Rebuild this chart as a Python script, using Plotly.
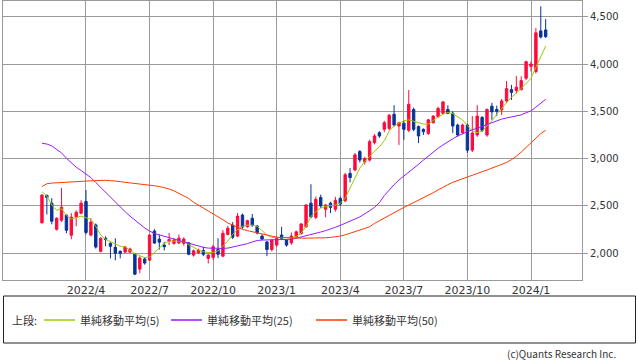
import plotly.graph_objects as go
import pandas as pd

# ---------------- data (weekly candles) ----------------
start_date = "2022-01-31"
n_weeks = 104
dates = pd.date_range(start_date, periods=n_weeks, freq="7D")

opens = [2322, 2612, 2530, 2254, 2350, 2403, 2191, 2382, 2424, 2547,
         2193, 2300, 2021, 2159, 2106, 2064, 2021, 2013, 2013, 1992,
         1833, 1940, 1928, 2235, 2150, 2087, 2130, 2105, 2110, 2105,
         2110, 1981, 2005, 2030, 1946, 1957, 2040, 1970, 2200, 2298,
         2182, 2404, 2280, 2370, 2287, 2182, 2120, 2040, 2087, 2193,
         2140, 2110, 2175, 2210, 2280, 2530, 2380, 2590, 2465, 2530,
         2465, 2580, 2555, 2845, 2880, 3075, 2967, 2985, 3170, 3275,
         3310, 3320, 3470, 3345, 3375, 3300, 3520, 3340, 3310, 3267,
         3380, 3445, 3480, 3520, 3480, 3355, 3275, 3355, 3090, 3250,
         3435, 3250, 3555, 3520, 3515, 3610, 3730, 3720, 3730, 3850,
         3975, 3920, 4350, 4360]
highs = [2625, 2620, 2583, 2380, 2689, 2410, 2424, 2455, 2561, 2668,
         2371, 2315, 2170, 2180, 2116, 2159, 2030, 2080, 2060, 2000,
         1970, 1960, 2200, 2255, 2200, 2120, 2215, 2160, 2200, 2170,
         2120, 2040, 2050, 2070, 1995, 2090, 2160, 2245, 2290, 2330,
         2425, 2420, 2355, 2415, 2300, 2200, 2130, 2150, 2180, 2280,
         2150, 2220, 2240, 2320, 2520, 2730, 2600, 2620, 2520, 2545,
         2597, 2600, 2850, 2900, 3060, 3090, 3020, 3200, 3260, 3290,
         3400, 3470, 3565, 3390, 3400, 3725, 3540, 3350, 3320, 3420,
         3460, 3550, 3605, 3565, 3500, 3370, 3370, 3370, 3450, 3565,
         3450, 3530, 3590, 3560, 3630, 3820, 3780, 3875, 3870, 4035,
         4030, 4380, 4610, 4475]
lows = [2315, 2410, 2307, 2240, 2330, 2212, 2148, 2286, 2413, 2200,
        2180, 2050, 2010, 2074, 1947, 1926, 1947, 2000, 2000, 1770,
        1790, 1880, 1920, 2100, 2040, 2030, 2087, 2090, 2095, 2080,
        1980, 1965, 1995, 1970, 1893, 1930, 1950, 1960, 2190, 2150,
        2170, 2260, 2270, 2280, 2200, 2140, 1970, 2020, 2070, 2140,
        2070, 2090, 2160, 2195, 2270, 2370, 2360, 2480, 2380, 2425,
        2440, 2500, 2540, 2750, 2870, 2960, 2940, 2970, 3150, 3220,
        3280, 3300, 3340, 3145, 3200, 3280, 3290, 3165, 3250, 3250,
        3370, 3430, 3470, 3470, 3270, 3230, 3260, 3060, 3070, 3230,
        3280, 3230, 3410, 3450, 3460, 3590, 3620, 3690, 3720, 3830,
        3920, 3900, 4270, 4275]
closes = [2615, 2590, 2339, 2371, 2487, 2244, 2382, 2434, 2530, 2220,
          2330, 2066, 2159, 2145, 2074, 2000, 2000, 2066, 2045, 1780,
          1950, 1897, 2193, 2108, 2118, 2070, 2145, 2140, 2160, 2150,
          1990, 2027, 2035, 1990, 1981, 2069, 1990, 2212, 2265, 2171,
          2393, 2277, 2345, 2298, 2215, 2150, 2040, 2140, 2157, 2157,
          2087, 2182, 2227, 2310, 2510, 2385, 2570, 2500, 2510, 2485,
          2560, 2520, 2830, 2800, 3040, 2985, 3000, 3180, 3240, 3240,
          3380, 3460, 3355, 3380, 3310, 3575, 3310, 3240, 3285, 3410,
          3450, 3530, 3600, 3480, 3345, 3250, 3355, 3090, 3270, 3450,
          3300, 3520, 3495, 3500, 3610, 3740, 3700, 3755, 3825, 4025,
          4000, 4330, 4285, 4290]

ma5 = [2650, 2605, 2510, 2455, 2470, 2400, 2362, 2380, 2393, 2375,
       2358, 2285, 2195, 2147, 2122, 2095, 2075, 2069, 2030, 1995,
       1975, 1955, 1960, 2010, 2060, 2105, 2128, 2130, 2130, 2120,
       2090, 2060, 2035, 2018, 2008, 2010, 2025, 2075, 2130, 2200,
       2250, 2285, 2298, 2298, 2285, 2240, 2195, 2168, 2165, 2165,
       2168, 2165, 2178, 2215, 2285, 2390, 2440, 2478, 2495, 2505,
       2510, 2530, 2580, 2690, 2800, 2900, 2970, 3030, 3080, 3125,
       3190, 3290, 3345, 3375, 3400, 3410, 3395, 3375, 3366, 3365,
       3405, 3440, 3470, 3488, 3475, 3445, 3410, 3350, 3290, 3275,
       3290, 3345, 3400, 3470, 3530, 3600, 3650, 3690, 3745, 3800,
       3849, 3965, 4080, 4190]
ma25 = [3162, 3155, 3135, 3100, 3060, 3005, 2955, 2910, 2875, 2840,
        2800, 2748, 2695, 2643, 2590, 2540, 2490, 2440, 2393, 2350,
        2305, 2268, 2235, 2210, 2195, 2180, 2165, 2148, 2132, 2116,
        2102, 2088, 2074, 2063, 2055, 2052, 2052, 2052, 2055, 2065,
        2078, 2088, 2102, 2120, 2135, 2140, 2141, 2143, 2144, 2144,
        2143, 2148, 2160, 2172, 2183, 2195, 2210, 2225, 2240, 2255,
        2275, 2295, 2315, 2340, 2362, 2385, 2415, 2450, 2485, 2535,
        2610, 2672, 2725, 2775, 2815, 2855, 2895, 2940, 2985, 3030,
        3075, 3110, 3145, 3180, 3210, 3240, 3265, 3285, 3305, 3320,
        3335, 3358, 3380, 3400, 3418, 3430, 3440, 3452, 3463, 3485,
        3505, 3545, 3585, 3627]
ma50 = [2705, 2735, 2742, 2746, 2750, 2752, 2755, 2758, 2760, 2763,
        2766, 2770, 2773, 2772, 2768, 2765, 2758, 2750, 2745, 2738,
        2732, 2726, 2720, 2714, 2706, 2697, 2680, 2660, 2635, 2605,
        2580, 2540, 2510, 2480, 2445, 2420, 2385, 2355, 2320, 2295,
        2270, 2253, 2240, 2228, 2215, 2203, 2190, 2177, 2170, 2166,
        2163, 2162, 2161, 2160, 2160, 2160, 2160, 2162, 2164, 2168,
        2174, 2182, 2195, 2212, 2225, 2240, 2258, 2280, 2316, 2345,
        2375, 2400, 2425, 2455, 2485, 2510, 2535, 2560, 2585, 2610,
        2640, 2670, 2700, 2725, 2750, 2770, 2790, 2810, 2825, 2845,
        2862, 2880, 2898, 2918, 2938, 2960, 2990, 3025, 3070, 3120,
        3170, 3225, 3265, 3300]

ma_names = ["単純移動平均(5)", "単純移動平均(25)", "単純移動平均(50)"]
ytick_vals = [2000, 2500, 3000, 3500, 4000, 4500]
xtick_dates = ["2022-04-04", "2022-07-04", "2022-10-03", "2023-01-02",
               "2023-04-03", "2023-07-03", "2023-10-02", "2024-01-01"]
xtick_text = ["2022/4", "2022/7", "2022/10", "2023/1",
              "2023/4", "2023/7", "2023/10", "2024/1"]
legend_prefix = "上段:"
credit = "(c)Quants Research Inc."

# ---------------- style ----------------
UP = "#ff0a3c"
DOWN = "#06349a"
MA_COLORS = ["#99cc00", "#9a1aff", "#ff3a00"]
GRID = "#9a9a9a"
TXT = "#333333"
W, H = 638, 362
L, R, T, B = 3, 56, 1, 82
PW, PH = W - L - R, H - T - B

def px_x(p):
    return (p - L) / PW

def px_y(p):
    return (H - B - p) / PH

fig = go.Figure()
fig.add_trace(go.Candlestick(
    x=dates, open=opens, high=highs, low=lows, close=closes,
    increasing=dict(line=dict(color=UP, width=1), fillcolor=UP),
    decreasing=dict(line=dict(color=DOWN, width=1), fillcolor=DOWN),
    whiskerwidth=0, showlegend=False, name="株価"))
for vals, name, col in zip([ma5, ma25, ma50], ma_names, MA_COLORS):
    fig.add_trace(go.Scatter(x=dates, y=vals, mode="lines", name=name,
                             line=dict(color=col, width=1), showlegend=False))

fig.update_layout(
    width=W, height=H, margin=dict(l=L, r=R, t=T, b=B),
    paper_bgcolor="white", plot_bgcolor="white",
    font=dict(family="DejaVu Sans", size=11, color=TXT),
    xaxis=dict(type="date", range=["2021-12-06 05:00", "2024-03-14"],
               tickvals=xtick_dates, ticktext=xtick_text,
               showgrid=True, gridcolor=GRID, gridwidth=1,
               showline=True, linecolor=GRID, linewidth=1, mirror=True,
               ticks="", tickfont=dict(size=11, color=TXT),
               rangeslider=dict(visible=False), zeroline=False),
    yaxis=dict(side="right", range=[1718, 4666], tickvals=ytick_vals,
               tickformat=",", showgrid=True, gridcolor=GRID, gridwidth=1,
               showline=True, linecolor=GRID, linewidth=1, mirror=True,
               ticks="outside", ticklen=5, tickcolor=GRID,
               tickfont=dict(size=10, color=TXT), zeroline=False),
    showlegend=False,
)

# legend box drawn below the chart
shapes = [dict(type="rect", xref="paper", yref="paper",
               x0=px_x(3.5), x1=px_x(635.5), y0=px_y(296), y1=px_y(343),
               line=dict(color="#222222", width=1), fillcolor="rgba(0,0,0,0)")]
annotations = [dict(text=legend_prefix, xref="paper", yref="paper",
                    x=px_x(10), y=px_y(320), xanchor="left", yanchor="middle",
                    showarrow=False, font=dict(family="Noto Sans CJK JP", size=11, color=TXT))]
line_starts = [44, 171, 316]
for x0, name, col in zip(line_starts, ma_names, MA_COLORS):
    shapes.append(dict(type="line", xref="paper", yref="paper",
                       x0=px_x(x0), x1=px_x(x0 + 31), y0=px_y(320), y1=px_y(320),
                       line=dict(color=col, width=1.5)))
    annotations.append(dict(text=name, xref="paper", yref="paper",
                            x=px_x(x0 + 34), y=px_y(320), xanchor="left", yanchor="middle",
                            showarrow=False,
                            font=dict(family="Noto Sans CJK JP", size=11, color=TXT)))
annotations.append(dict(text=credit, xref="paper", yref="paper",
                        x=px_x(618), y=px_y(353.5), xanchor="right", yanchor="middle",
                        showarrow=False,
                        font=dict(family="Noto Sans CJK JP", size=10, color=TXT)))
fig.update_layout(shapes=shapes, annotations=annotations)

fig.write_html("out.html",
               config={"displayModeBar": False},
               post_script="document.body.style.margin='0';document.body.style.overflow='hidden';")
